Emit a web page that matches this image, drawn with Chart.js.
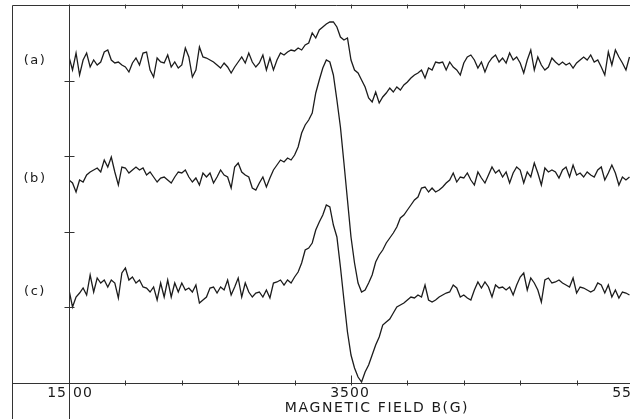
<!DOCTYPE html>
<html>
<head>
<meta charset="utf-8">
<script src="https://cdn.jsdelivr.net/npm/chart.js@4.4.0/dist/chart.umd.min.js"></script>
<style>
  html, body { margin: 0; padding: 0; background: #fff; overflow: hidden; }
  #wrap { width: 630px; height: 419px; overflow: hidden; position: relative; }
  #chart { position: absolute; left: 0; top: 0; }
</style>
</head>
<body>
<div id="wrap"><canvas id="chart" width="660" height="419"></canvas></div>
<script>
// --- EPR spectra (a), (b), (c): derivative signal vs magnetic field ---

// field sampling (gauss)
const FIELD_START = 1500;
const FIELD_STEP = 25;
const FIELD_MIN = 1500;
const FIELD_MAX = 5500;

// axis ticks
const xTicks = [1500, 1900, 2300, 2700, 3100, 3500, 3900, 4300, 4700, 5100, 5500];
const xTickLabels = ["1500", "3500", "5500"];
const yTicks = [0, 75.6, 151.2, 226.8, 302.4, 378];
const traceLabels = ["(a)", "(b)", "(c)"];
const axisTitle = "MAGNETIC FIELD B(G)";

// signal, arbitrary units (traces are offset vertically as in the recording)
const traceA = [
  326, 313, 330, 308, 323, 330, 316, 323, 318, 321,
  331, 333, 323, 320, 321, 318, 316, 311, 320, 325,
  318, 330, 331, 313, 306, 325, 321, 320, 328, 316,
  321, 315, 318, 335, 326, 306, 313, 336, 326, 325,
  323, 321, 318, 315, 320, 316, 310, 316, 321, 326,
  320, 330, 321, 316, 320, 328, 313, 325, 313, 323,
  330, 328, 331, 333, 332, 335, 333, 338, 340, 350,
  345, 353, 356, 359, 361, 361, 356, 346, 343, 345,
  323, 313, 310, 303, 296, 285, 281, 291, 280, 286,
  290, 295, 291, 296, 293, 298, 301, 305, 308, 310,
  313, 305, 315, 313, 321, 320, 321, 313, 321, 316,
  313, 308, 320, 326, 328, 323, 315, 321, 311, 320,
  325, 328, 321, 325, 320, 330, 323, 326, 320, 310,
  323, 333, 313, 326, 318, 313, 316, 325, 321, 318,
  321, 318, 320, 315, 320, 323, 326, 323, 328, 321,
  323, 316, 308, 331, 318, 333, 326, 320, 313, 326
];
const traceB = [
  203, 200, 191, 203, 201, 208, 211, 213, 215, 211,
  223, 216, 226, 211, 198, 216, 215, 210, 213, 216,
  213, 215, 208, 211, 206, 201, 205, 206, 203, 200,
  206, 211, 210, 213, 206, 201, 205, 198, 210, 206,
  210, 200, 206, 213, 208, 206, 195, 216, 220, 211,
  208, 206, 195, 193, 200, 206, 196, 205, 213, 218,
  223, 221, 225, 223, 228, 236, 250, 258, 263, 270,
  290, 303, 315, 323, 321, 308, 283, 256, 220, 183,
  146, 120, 100, 91, 93, 100, 108, 121, 128, 133,
  140, 145, 150, 156, 165, 168, 173, 178, 183, 186,
  195, 196, 191, 195, 191, 193, 196, 200, 203, 210,
  201, 206, 205, 210, 203, 198, 211, 205, 200, 208,
  216, 210, 213, 206, 211, 200, 210, 216, 213, 200,
  211, 206, 220, 210, 198, 215, 211, 213, 211, 205,
  213, 216, 206, 218, 208, 210, 206, 211, 208, 206,
  213, 216, 203, 210, 218, 210, 198, 206, 203, 206
];
const traceC = [
  93, 76, 86, 90, 95, 88, 108, 91, 105, 100,
  103, 96, 103, 100, 85, 110, 115, 103, 106, 100,
  103, 96, 95, 91, 96, 83, 100, 86, 103, 86,
  100, 91, 100, 93, 95, 91, 98, 80, 83, 86,
  95, 96, 90, 96, 93, 103, 88, 96, 105, 86,
  100, 91, 86, 90, 91, 86, 93, 85, 100, 101,
  103, 98, 103, 100, 106, 111, 120, 133, 135, 140,
  153, 161, 168, 178, 176, 158, 146, 116, 83, 51,
  28, 15, 6, 1, 11, 18, 28, 38, 46, 58,
  61, 64, 70, 76, 78, 80, 83, 86, 85, 88,
  86, 98, 83, 81, 83, 86, 88, 90, 91, 98,
  95, 86, 88, 85, 83, 93, 101, 95, 101, 96,
  86, 98, 95, 96, 93, 96, 88, 98, 106, 110,
  93, 105, 100, 93, 81, 103, 105, 100, 101, 103,
  100, 98, 96, 105, 90, 96, 95, 93, 91, 93,
  100, 98, 90, 98, 86, 93, 85, 91, 90, 88
];

const INK = "#1c1c1c";
const FONT = "DejaVu Sans";

function toPoints(values) {
  return values.map((v, i) => ({ x: FIELD_START + i * FIELD_STEP, y: v }));
}

function traceDataset(values) {
  return {
    data: toPoints(values),
    borderColor: INK,
    borderWidth: 1.3,
    pointRadius: 0,
    tension: 0,
    fill: false,
  };
}

// frame, ticks and lettering like the original recorder chart
const framePlugin = {
  id: "frame",
  afterDraw(chart) {
    const ctx = chart.ctx;
    const xs = chart.scales.x;
    const ys = chart.scales.y;
    const area = chart.chartArea;
    const axX = Math.round(area.left) + 0.5;
    const top = Math.round(area.top) + 0.5;
    const bottom = Math.round(area.bottom) + 0.5;

    ctx.save();
    ctx.strokeStyle = "#333";
    ctx.lineWidth = 1;
    ctx.beginPath();
    ctx.moveTo(12.5, chart.height);
    ctx.lineTo(12.5, top);
    ctx.lineTo(chart.width, top);
    ctx.moveTo(12.5, bottom);
    ctx.lineTo(chart.width, bottom);
    ctx.moveTo(axX, top);
    ctx.lineTo(axX, chart.height);
    ctx.stroke();

    // x ticks, bottom axis and top border
    ctx.beginPath();
    xTicks.forEach((t) => {
      const px = Math.round(xs.getPixelForValue(t)) + 0.5;
      const up = t === 3500 ? 8 : 3;
      ctx.moveTo(px, bottom - up);
      ctx.lineTo(px, bottom + 2);
      ctx.moveTo(px, top - 1);
      ctx.lineTo(px, top + 3);
    });
    // y ticks as small crosses on the left axis
    yTicks.forEach((t) => {
      const py = Math.round(ys.getPixelForValue(t)) + 0.5;
      ctx.moveTo(axX - 5, py);
      ctx.lineTo(axX + 5, py);
    });
    ctx.stroke();

    // lettering
    ctx.fillStyle = "#1a1a1a";
    ctx.font = "14px '" + FONT + "'";
    ctx.textBaseline = "middle";
    if ("letterSpacing" in ctx) ctx.letterSpacing = "1px";
    xTickLabels.forEach((lbl) => {
      const v = Number(lbl);
      const px = xs.getPixelForValue(v);
      if (v === FIELD_MIN) {
        // the axis line runs through the first label
        ctx.textAlign = "right";
        ctx.fillText(lbl.slice(0, 2), px - 2, 393);
        ctx.textAlign = "left";
        ctx.fillText(lbl.slice(2), px + 4, 393);
      } else {
        ctx.textAlign = "center";
        ctx.fillText(lbl, px - 1, 393);
      }
    });
    ctx.textAlign = "center";
    ctx.letterSpacing = "1.6px";
    ctx.fillText(axisTitle, 377, 408);

    // trace labels, placed at each trace's left baseline
    ctx.font = "13px '" + FONT + "'";
    ctx.letterSpacing = "1.5px";
    const series = [traceA, traceB, traceC];
    traceLabels.forEach((lbl, k) => {
      const first = series[k].slice(0, 8);
      const base = first.reduce((s, v) => s + v, 0) / first.length;
      ctx.fillText(lbl, 35, ys.getPixelForValue(base) - 1);
    });
    ctx.restore();
  },
};

const ctx = document.getElementById("chart").getContext("2d");
new Chart(ctx, {
  type: "line",
  data: {
    datasets: [traceDataset(traceA), traceDataset(traceB), traceDataset(traceC)],
  },
  options: {
    responsive: false,
    animation: false,
    devicePixelRatio: 1,
    layout: { padding: { left: 69, right: 27, top: 5, bottom: 36 } },
    plugins: { legend: { display: false }, tooltip: { enabled: false } },
    scales: {
      x: { type: "linear", min: FIELD_MIN, max: FIELD_MAX, display: false },
      y: { type: "linear", min: 0, max: 378, display: false },
    },
  },
  plugins: [framePlugin],
});
</script>
</body>
</html>
